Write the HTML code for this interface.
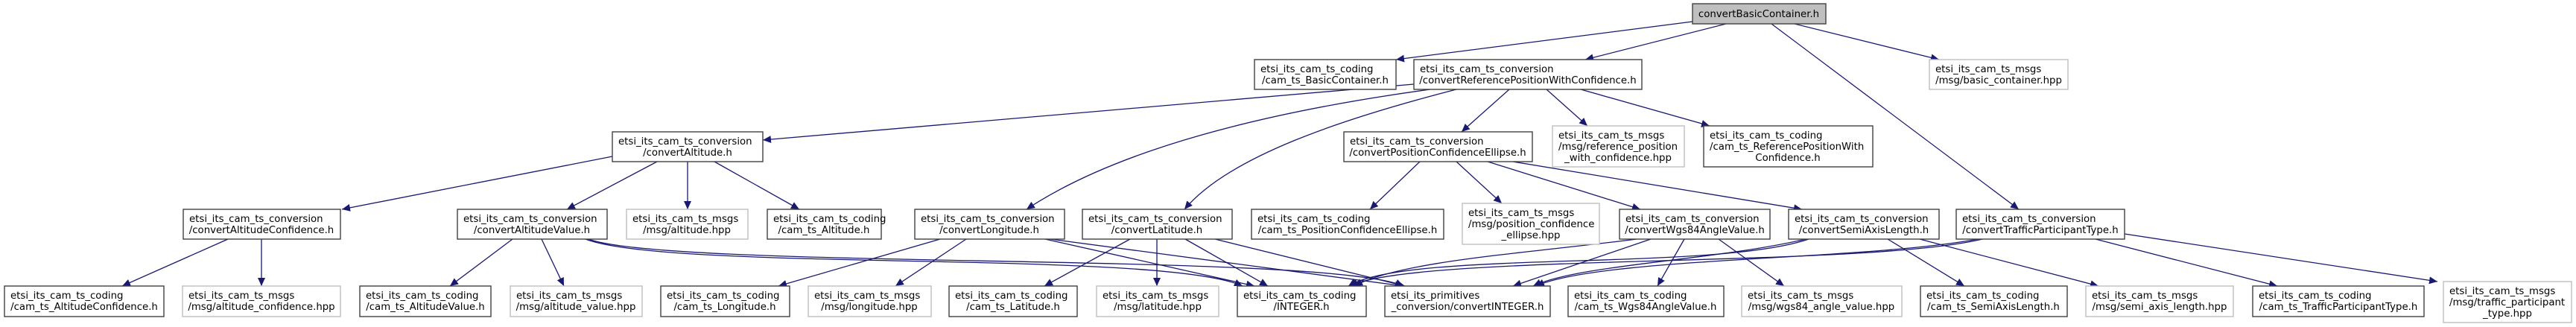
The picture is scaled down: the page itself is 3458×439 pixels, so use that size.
<!DOCTYPE html>
<html><head><meta charset="utf-8"><style>
html,body{margin:0;padding:0;background:#fff;}
svg{display:block;}
text{font-family:"DejaVu Sans","Liberation Sans",sans-serif;font-size:13.3px;fill:#000;}
.b{fill:#fff;stroke:#404040;stroke-width:1.4;}
.g{fill:#fff;stroke:#bfbfbf;stroke-width:1.4;}
.e{fill:none;stroke:#191970;stroke-width:1.3;}
</style></head><body>
<svg width="3458" height="439" viewBox="0 0 3458 439" xmlns="http://www.w3.org/2000/svg">
<defs><marker id="a" markerUnits="userSpaceOnUse" markerWidth="12" markerHeight="10" refX="11" refY="5" orient="auto"><path d="M0,0 L11,5 L0,10 z" fill="#191970"/></marker></defs>
<g class="e" marker-end="url(#a)">
<path d="M2272,29 L1874,80"/>
<path d="M2317,32 L2128,80"/>
<path d="M2409,32 L2603,80"/>
<path d="M2378,32 L2710,281"/>
<path d="M1898,113 L1024,188"/>
<path d="M1920,120 C1700,150 1500,200 1378,281"/>
<path d="M1955,120 C1800,160 1650,210 1590,281"/>
<path d="M2026,120 L1962,177"/>
<path d="M2076,120 L2131,169"/>
<path d="M2122,120 L2295,169"/>
<path d="M822,210 L459,281"/>
<path d="M882,217 L761,281"/>
<path d="M923,217 L923,281"/>
<path d="M959,217 L1073,281"/>
<path d="M306,321 L164,384"/>
<path d="M351,321 L351,384"/>
<path d="M688,321 L604,384"/>
<path d="M727,321 L757,384"/>
<path d="M786,321 C900,365 1560,335 1668,384"/>
<path d="M790,321 C900,362 1780,338 1884,384"/>
<path d="M1262,321 L1045,384"/>
<path d="M1297,321 L1202,384"/>
<path d="M1403,321 L1684,384"/>
<path d="M1410,321 L1884,384"/>
<path d="M1517,321 L1402,384"/>
<path d="M1553,321 L1553,384"/>
<path d="M1591,321 L1702,384"/>
<path d="M1631,321 L1886,384"/>
<path d="M1906,217 L1839,281"/>
<path d="M1955,217 L2016,273"/>
<path d="M1997,217 L2202,281"/>
<path d="M2031,217 L2419,281"/>
<path d="M2197,321 C2050,340 1880,350 1818,384"/>
<path d="M2216,321 L2031,384"/>
<path d="M2261,321 L2225,384"/>
<path d="M2307,321 L2395,384"/>
<path d="M2428,321 C2300,365 1890,335 1810,384"/>
<path d="M2424,321 C2300,350 2120,355 2058,384"/>
<path d="M2534,321 L2637,384"/>
<path d="M2577,321 L2817,384"/>
<path d="M2661,321 C2500,360 1900,340 1812,384"/>
<path d="M2655,321 C2500,350 2150,345 2062,384"/>
<path d="M2813,321 L3057,384"/>
<path d="M2852,314 L3272,378"/>
</g>
<rect x="2272" y="5" width="179" height="27" fill="#bfbfbf" stroke="#404040" stroke-width="1.4"/>
<text x="2361" y="23" text-anchor="middle">convertBasicContainer.h</text>
<g>
<rect class="b" x="1684" y="80" width="190" height="40"/><text x="1692" y="97">etsi_its_cam_ts_coding</text><text x="1779" y="112" text-anchor="middle">/cam_ts_BasicContainer.h</text>
<rect class="b" x="1898" y="80" width="306" height="40"/><text x="1906" y="97">etsi_its_cam_ts_conversion</text><text x="2051" y="112" text-anchor="middle">/convertReferencePositionWithConfidence.h</text>
<rect class="g" x="2590" y="80" width="186" height="40"/><text x="2598" y="97">etsi_its_cam_ts_msgs</text><text x="2683" y="112" text-anchor="middle">/msg/basic_container.hpp</text>
<rect class="b" x="822" y="177" width="202" height="40"/><text x="830" y="194">etsi_its_cam_ts_conversion</text><text x="923" y="209" text-anchor="middle">/convertAltitude.h</text>
<rect class="b" x="1804" y="177" width="253" height="40"/><text x="1812" y="194">etsi_its_cam_ts_conversion</text><text x="1930" y="209" text-anchor="middle">/convertPositionConfidenceEllipse.h</text>
<rect class="g" x="2084" y="169" width="177" height="55"/><text x="2092" y="186">etsi_its_cam_ts_msgs</text><text x="2092" y="201">/msg/reference_position</text><text x="2172" y="216" text-anchor="middle">_with_confidence.hpp</text>
<rect class="b" x="2287" y="169" width="227" height="55"/><text x="2295" y="186">etsi_its_cam_ts_coding</text><text x="2295" y="201">/cam_ts_ReferencePositionWith</text><text x="2400" y="216" text-anchor="middle">Confidence.h</text>

<rect class="b" x="246" y="281" width="211" height="40"/><text x="254" y="298">etsi_its_cam_ts_conversion</text><text x="351" y="313" text-anchor="middle">/convertAltitudeConfidence.h</text>
<rect class="b" x="614" y="281" width="201" height="40"/><text x="622" y="298">etsi_its_cam_ts_conversion</text><text x="714" y="313" text-anchor="middle">/convertAltitudeValue.h</text>
<rect class="g" x="841" y="281" width="163" height="40"/><text x="849" y="298">etsi_its_cam_ts_msgs</text><text x="922" y="313" text-anchor="middle">/msg/altitude.hpp</text>
<rect class="b" x="1030" y="281" width="153" height="40"/><text x="1038" y="298">etsi_its_cam_ts_coding</text><text x="1106" y="313" text-anchor="middle">/cam_ts_Altitude.h</text>
<rect class="b" x="1228" y="281" width="201" height="40"/><text x="1236" y="298">etsi_its_cam_ts_conversion</text><text x="1328" y="313" text-anchor="middle">/convertLongitude.h</text>
<rect class="b" x="1453" y="281" width="201" height="40"/><text x="1461" y="298">etsi_its_cam_ts_conversion</text><text x="1553" y="313" text-anchor="middle">/convertLatitude.h</text>
<rect class="b" x="1680" y="281" width="258" height="40"/><text x="1688" y="298">etsi_its_cam_ts_coding</text><text x="1809" y="313" text-anchor="middle">/cam_ts_PositionConfidenceEllipse.h</text>
<rect class="g" x="1963" y="273" width="184" height="55"/><text x="1971" y="290">etsi_its_cam_ts_msgs</text><text x="1971" y="305">/msg/position_confidence</text><text x="2055" y="320" text-anchor="middle">_ellipse.hpp</text>
<rect class="b" x="2174" y="281" width="202" height="40"/><text x="2182" y="298">etsi_its_cam_ts_conversion</text><text x="2275" y="313" text-anchor="middle">/convertWgs84AngleValue.h</text>
<rect class="b" x="2401" y="281" width="202" height="40"/><text x="2409" y="298">etsi_its_cam_ts_conversion</text><text x="2502" y="313" text-anchor="middle">/convertSemiAxisLength.h</text>
<rect class="b" x="2626" y="281" width="226" height="40"/><text x="2634" y="298">etsi_its_cam_ts_conversion</text><text x="2739" y="313" text-anchor="middle">/convertTrafficParticipantType.h</text>

<rect class="b" x="6" y="384" width="214" height="41"/><text x="14" y="401">etsi_its_cam_ts_coding</text><text x="113" y="416" text-anchor="middle">/cam_ts_AltitudeConfidence.h</text>
<rect class="g" x="245" y="384" width="212" height="41"/><text x="253" y="401">etsi_its_cam_ts_msgs</text><text x="351" y="416" text-anchor="middle">/msg/altitude_confidence.hpp</text>
<rect class="b" x="483" y="384" width="176" height="41"/><text x="491" y="401">etsi_its_cam_ts_coding</text><text x="571" y="416" text-anchor="middle">/cam_ts_AltitudeValue.h</text>
<rect class="g" x="685" y="384" width="177" height="41"/><text x="693" y="401">etsi_its_cam_ts_msgs</text><text x="773" y="416" text-anchor="middle">/msg/altitude_value.hpp</text>
<rect class="b" x="887" y="384" width="173" height="41"/><text x="895" y="401">etsi_its_cam_ts_coding</text><text x="973" y="416" text-anchor="middle">/cam_ts_Longitude.h</text>
<rect class="g" x="1085" y="384" width="165" height="41"/><text x="1093" y="401">etsi_its_cam_ts_msgs</text><text x="1167" y="416" text-anchor="middle">/msg/longitude.hpp</text>
<rect class="b" x="1274" y="384" width="172" height="41"/><text x="1282" y="401">etsi_its_cam_ts_coding</text><text x="1360" y="416" text-anchor="middle">/cam_ts_Latitude.h</text>
<rect class="g" x="1472" y="384" width="164" height="41"/><text x="1480" y="401">etsi_its_cam_ts_msgs</text><text x="1554" y="416" text-anchor="middle">/msg/latitude.hpp</text>
<rect class="b" x="1661" y="384" width="173" height="41"/><text x="1669" y="401">etsi_its_cam_ts_coding</text><text x="1747" y="416" text-anchor="middle">/INTEGER.h</text>
<rect class="b" x="1859" y="384" width="222" height="41"/><text x="1867" y="401">etsi_its_primitives</text><text x="1970" y="416" text-anchor="middle">_conversion/convertINTEGER.h</text>
<rect class="b" x="2105" y="384" width="209" height="41"/><text x="2113" y="401">etsi_its_cam_ts_coding</text><text x="2209" y="416" text-anchor="middle">/cam_ts_Wgs84AngleValue.h</text>
<rect class="g" x="2338" y="384" width="215" height="41"/><text x="2346" y="401">etsi_its_cam_ts_msgs</text><text x="2445" y="416" text-anchor="middle">/msg/wgs84_angle_value.hpp</text>
<rect class="b" x="2578" y="384" width="197" height="41"/><text x="2586" y="401">etsi_its_cam_ts_coding</text><text x="2676" y="416" text-anchor="middle">/cam_ts_SemiAxisLength.h</text>
<rect class="g" x="2800" y="384" width="198" height="41"/><text x="2808" y="401">etsi_its_cam_ts_msgs</text><text x="2899" y="416" text-anchor="middle">/msg/semi_axis_length.hpp</text>
<rect class="b" x="3024" y="384" width="230" height="41"/><text x="3032" y="401">etsi_its_cam_ts_coding</text><text x="3139" y="416" text-anchor="middle">/cam_ts_TrafficParticipantType.h</text>
<rect class="g" x="3280" y="378" width="172" height="55"/><text x="3288" y="395">etsi_its_cam_ts_msgs</text><text x="3288" y="410">/msg/traffic_participant</text><text x="3366" y="425" text-anchor="middle">_type.hpp</text>
</g>
</svg>
</body></html>
